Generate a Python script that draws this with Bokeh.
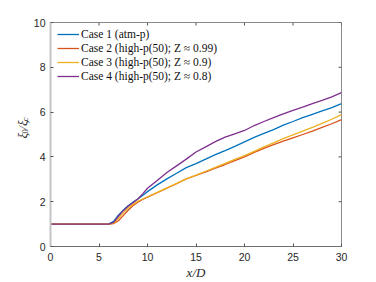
import math
from bokeh.plotting import figure
from bokeh.layouts import row
from bokeh.models import (LinearAxis, FixedTicker, Legend, LegendItem, Label, Range1d)
from bokeh.embed import file_html
from bokeh.resources import INLINE

# ---- data ----
x_d = [0, 5, 6, 6.5, 7, 7.5, 8, 8.5, 9, 9.5, 10, 11, 12, 13, 14, 15, 16, 17, 18, 19,
       20, 21, 22, 23, 24, 25, 26, 27, 28, 29, 30]
case1 = [1, 1, 1.0, 1.12, 1.4, 1.62, 1.82, 1.98, 2.12, 2.28, 2.45, 2.75, 3.02, 3.27, 3.52,
         3.7, 3.9, 4.1, 4.28, 4.47, 4.67, 4.87, 5.05, 5.22, 5.42, 5.58, 5.75, 5.9, 6.05, 6.2, 6.38]
case2 = [1, 1, 1.0, 1.02, 1.15, 1.38, 1.62, 1.82, 1.98, 2.1, 2.2, 2.4, 2.6, 2.8, 3.02,
         3.17, 3.33, 3.5, 3.66, 3.83, 4.0, 4.2, 4.38, 4.55, 4.7, 4.85, 5.0, 5.15, 5.32, 5.48, 5.66]
case3 = [1, 1, 1.0, 1.04, 1.25, 1.5, 1.72, 1.88, 2.02, 2.12, 2.22, 2.42, 2.62, 2.82, 3.02,
         3.19, 3.36, 3.53, 3.71, 3.89, 4.06, 4.25, 4.45, 4.63, 4.82, 4.98, 5.15, 5.32, 5.5, 5.68, 5.89]
case4 = [1, 1, 1.0, 1.08, 1.35, 1.6, 1.8, 1.95, 2.12, 2.35, 2.6, 2.95, 3.3, 3.6, 3.9,
         4.22, 4.45, 4.68, 4.88, 5.03, 5.18, 5.4, 5.58, 5.75, 5.92, 6.08, 6.22, 6.38, 6.52, 6.68, 6.87]
labels = ["Case 1 (atm-p)", "Case 2 (high-p(50); Z \u2248 0.99)",
          "Case 3 (high-p(50); Z \u2248 0.9)", "Case 4 (high-p(50); Z \u2248 0.8)"]
colors = ["#0072BD", "#D95319", "#EDB120", "#7E2F8E"]
x_ticks = [0, 5, 10, 15, 20, 25, 30]
y_ticks = [0, 2, 4, 6, 8, 10]

LW = 30   # width of the narrow figure holding the y-axis title

p = figure(frame_width=291, frame_height=224, output_backend="svg", toolbar_location=None,
           x_range=Range1d(0, 30), y_range=Range1d(0, 10),
           min_border_left=49 - LW, min_border_right=28, min_border_top=22, min_border_bottom=20,
           x_axis_location=None, y_axis_location=None)
p.xgrid.visible = False
p.ygrid.visible = False
p.outline_line_color = "#8a8a8a"
p.outline_line_width = 1
p.background_fill_color = "white"
p.border_fill_color = "white"

def style_axis(ax, ticks, color, width):
    ax.ticker = FixedTicker(ticks=ticks)
    ax.major_tick_in = 3
    ax.major_tick_out = 0
    ax.minor_tick_line_color = None
    ax.axis_line_color = color
    ax.axis_line_width = width
    ax.major_tick_line_color = "#555555"
    ax.major_tick_line_width = 1
    ax.major_label_text_font = "Liberation Sans"
    ax.major_label_text_font_size = "10.5px"
    ax.major_label_text_color = "#262626"
    ax.major_label_standoff = 6

xb = LinearAxis()
style_axis(xb, x_ticks, "#6e6e6e", 1)
xb.axis_label = "x/D"
xb.axis_label_text_font = "Liberation Serif"
xb.axis_label_text_font_style = "italic"
xb.axis_label_text_font_size = "13px"
xb.axis_label_text_color = "#262626"
xb.axis_label_standoff = 1
p.add_layout(xb, "below")

yl = LinearAxis()
style_axis(yl, y_ticks, "#c4c4c4", 2)
yl.major_label_standoff = 5
p.add_layout(yl, "left")

# inward ticks on top and right edges, at the tick values
p.ray(x=x_ticks, y=[10] * len(x_ticks), length=3, length_units="screen",
      angle=-math.pi / 2, line_color="#555555", line_width=1)
p.ray(x=[30] * len(y_ticks), y=y_ticks, length=3, length_units="screen",
      angle=math.pi, line_color="#555555", line_width=1)

renderers = []
for ys, c in zip([case1, case2, case3, case4], colors):
    r = p.line(x_d, ys, line_color=c, line_width=1.3)
    renderers.append(r)

legend = Legend(items=[LegendItem(label=l, renderers=[r]) for l, r in zip(labels, renderers)],
                location=(7, 163), margin=0, padding=0, spacing=0,
                label_text_font="Liberation Serif", label_text_font_size="11.5px",
                label_text_color="#111111", label_height=14, glyph_height=14, glyph_width=22,
                label_standoff=2, border_line_color=None, background_fill_alpha=0)
p.add_layout(legend, "center")

# narrow figure with the y-axis title xi_0 / xi_c (rotated, with subscripts)
H = 282
q = figure(width=LW, height=H, output_backend="svg", toolbar_location=None,
           x_range=Range1d(0, LW), y_range=Range1d(0, H),
           min_border=0, x_axis_location=None, y_axis_location=None)
q.xgrid.visible = False
q.ygrid.visible = False
q.outline_line_color = None
q.background_fill_color = "white"
q.border_fill_color = "white"

bx = 22
by0 = H - 146
pieces = [("\u03be", 13, 0, 6.4), ("0", 8.5, 2.5, 4.6), ("/\u03be", 13, 0, 10.8), ("c", 8.5, 2.5, 4.5)]
cur = 0.0
for txt, fs, sub, w in pieces:
    q.add_layout(Label(x=bx + sub, y=by0 + cur,
                       text=txt, angle=math.pi / 2,
                       text_font="Liberation Serif", text_font_style="italic" if txt != "0" else "normal",
                       text_font_size=f"{fs}px", text_color="#262626",
                       text_align="left", text_baseline="alphabetic"))
    cur += w

layout = row(q, p, spacing=0)
open("out.html", "w").write(file_html(layout, INLINE))
